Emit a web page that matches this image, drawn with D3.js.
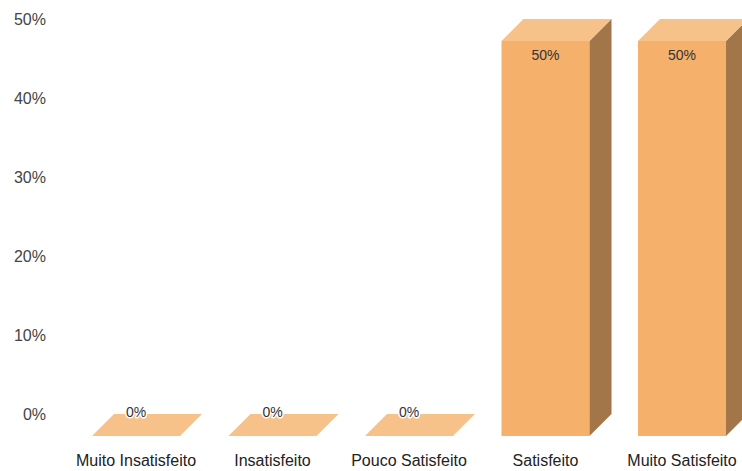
<!DOCTYPE html>
<html>
<head>
<meta charset="utf-8">
<script src="https://cdn.jsdelivr.net/npm/d3@7"></script>
<style>
  html, body { margin: 0; padding: 0; background: #fff; }
  svg { display: block; }
  text { font-family: "Liberation Sans", Arial, sans-serif; }
</style>
</head>
<body>
<svg id="chart" width="742" height="471"></svg>
<script>
// Satisfaction survey: share of responses per category
const categories = ["Muito Insatisfeito", "Insatisfeito", "Pouco Satisfeito", "Satisfeito", "Muito Satisfeito"];
const values = [0, 0, 0, 50, 50];
const yTicks = [0, 10, 20, 30, 40, 50];

const depth = 22; // 3D extrusion offset (x right, y up)
const frontBase = 436;

const svg = d3.select("#chart");

const x = d3.scaleBand()
  .domain(categories)
  .range([67.75, 750.25])
  .paddingInner(0.355)
  .paddingOuter(0.1775);

// front-face vertical scale
const y = d3.scaleLinear().domain([0, 50]).range([frontBase, frontBase - 395]);

// axis labels sit on the back plane
const yAxis = d3.axisLeft(y.copy().range([frontBase - depth, frontBase - depth - 395]))
  .tickValues(yTicks)
  .tickFormat(d => d + "%")
  .tickSize(0)
  .tickPadding(0);

const axisG = svg.append("g")
  .attr("transform", "translate(46,0)")
  .call(yAxis);
axisG.select(".domain").remove();
axisG.selectAll("text")
  .attr("fill", "#444")
  .style("font-size", "16px")
  .style("font-family", "'Liberation Sans', Arial, sans-serif");

const frontColor = "#F5B06C", topColor = "#F7C18A", sideColor = "#A3764A";

const bars = svg.append("g").selectAll("g")
  .data(categories.map((c, i) => ({ c, v: values[i] })))
  .join("g");

bars.each(function(d) {
  const g = d3.select(this);
  const x0 = x(d.c), x1 = x0 + x.bandwidth();
  const yb = y(0), yt = y(d.v);
  if (d.v > 0) {
    g.append("rect")
      .attr("x", x0).attr("y", yt)
      .attr("width", x1 - x0).attr("height", yb - yt)
      .attr("fill", frontColor);
    g.append("path")
      .attr("d", `M${x1},${yt}L${x1 + depth},${yt - depth}L${x1 + depth},${yb - depth}L${x1},${yb}Z`)
      .attr("fill", sideColor);
  }
  g.append("path")
    .attr("d", `M${x0},${yt}L${x0 + depth},${yt - depth}L${x1 + depth},${yt - depth}L${x1},${yt}Z`)
    .attr("fill", topColor);
});

// value labels
bars.append("text")
  .attr("x", d => x(d.c) + x.bandwidth() / 2)
  .attr("y", d => d.v > 0 ? y(d.v) + 19 : y(0) - 19)
  .attr("text-anchor", "middle")
  .style("font-size", "14px")
  .attr("fill", "#333")
  .attr("stroke", d => d.v > 0 ? "none" : "#fff")
  .attr("stroke-width", 3)
  .attr("paint-order", "stroke")
  .attr("stroke-linejoin", "round")
  .text(d => d.v + "%");

// category labels
svg.append("g").selectAll("text")
  .data(categories)
  .join("text")
  .attr("x", d => x(d) + x.bandwidth() / 2)
  .attr("y", 466)
  .attr("text-anchor", "middle")
  .style("font-size", "16px")
  .attr("fill", "#222")
  .text(d => d);
</script>
</body>
</html>
